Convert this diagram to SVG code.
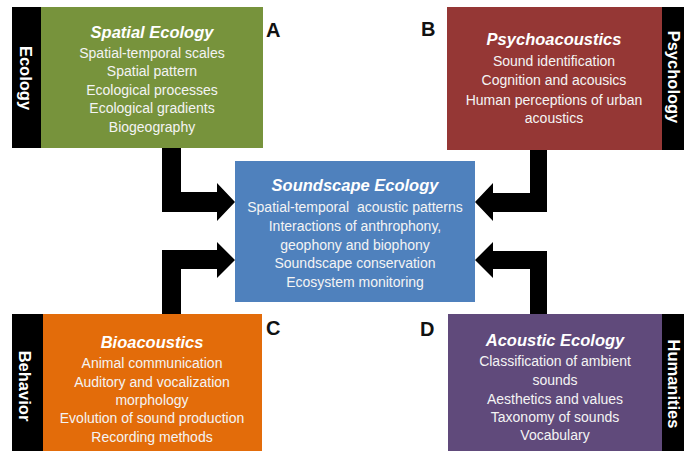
<svg xmlns="http://www.w3.org/2000/svg" width="684" height="451" viewBox="0 0 684 451">
<style>
.t{font-family:"Liberation Sans",Arial,sans-serif;font-size:14px;fill:#f4f4f4;text-anchor:middle}
.h{font-family:"Liberation Sans",Arial,sans-serif;font-size:16.5px;font-weight:bold;font-style:italic;fill:#ffffff;text-anchor:middle}
.s{font-family:"Liberation Sans",Arial,sans-serif;font-size:16.5px;font-weight:bold;fill:#ffffff;text-anchor:middle}
.l{font-family:"Liberation Sans",Arial,sans-serif;font-size:20px;font-weight:bold;fill:#111111}
.bar{fill:#000000}
.arrow{fill:#000000}
</style>
<rect width="684" height="451" fill="#ffffff"/>
<g id="connectors">
<path class="arrow" d="M162,148 H181 V192 H217 V183 L235,202 L217,221 V212 H162 Z"/>
<path class="arrow" d="M162,314 V250 H217 V242 L235,260 L217,278 V269 H181 V314 Z"/>
<path class="arrow" d="M547,150 V212 H493 V221 L475,202 L493,183 V193 H530 V150 Z"/>
<path class="arrow" d="M547,314 V251 H493 V242 L475,260 L493,278 V269 H530 V314 Z"/>
</g>
<g id="nodeA">
<rect class="bar" x="12" y="7" width="29" height="141"/>
<rect x="41" y="7" width="222" height="141" fill="#77933c"/>
<text class="s" transform="translate(20,78) rotate(90)">Ecology</text>
<text class="h" x="152" y="38">Spatial Ecology</text>
<text class="t" x="152" y="58">Spatial-temporal scales</text>
<text class="t" x="152" y="76">Spatial pattern</text>
<text class="t" x="152" y="95">Ecological processes</text>
<text class="t" x="152" y="113">Ecological gradients</text>
<text class="t" x="152" y="132">Biogeography</text>
<text class="l" x="266" y="37">A</text>
</g>
<g id="nodeB">
<rect x="447" y="7" width="215" height="143" fill="#953735"/>
<rect class="bar" x="662" y="7" width="22" height="143"/>
<text class="s" transform="translate(668,77) rotate(90)">Psychology</text>
<text class="h" x="554" y="45">Psychoacoustics</text>
<text class="t" x="554" y="66">Sound identification</text>
<text class="t" x="554" y="85">Cognition and acousics</text>
<text class="t" x="554" y="105">Human perceptions of urban</text>
<text class="t" x="554" y="123">acoustics</text>
<text class="l" x="421" y="36">B</text>
</g>
<g id="nodeCenter">
<rect x="235" y="161" width="240" height="141" fill="#4f81bd"/>
<text class="h" x="355" y="191">Soundscape Ecology</text>
<text class="t" x="355" y="212" xml:space="preserve">Spatial-temporal  acoustic patterns</text>
<text class="t" x="355" y="231">Interactions of anthrophony,</text>
<text class="t" x="355" y="250">geophony and biophony</text>
<text class="t" x="355" y="268">Soundscape conservation</text>
<text class="t" x="355" y="287">Ecosystem monitoring</text>
</g>
<g id="nodeC">
<rect class="bar" x="12" y="314" width="31" height="137"/>
<rect x="43" y="314" width="219" height="137" fill="#e36c0a"/>
<text class="s" transform="translate(19,386) rotate(90)">Behavior</text>
<text class="h" x="152" y="348">Bioacoustics</text>
<text class="t" x="152" y="368">Animal communication</text>
<text class="t" x="152" y="387">Auditory and vocalization</text>
<text class="t" x="152" y="405">morphology</text>
<text class="t" x="152" y="423">Evolution of sound production</text>
<text class="t" x="152" y="442">Recording methods</text>
<text class="l" x="266" y="335">C</text>
</g>
<g id="nodeD">
<rect x="448" y="314" width="214" height="137" fill="#604a7b"/>
<rect class="bar" x="662" y="314" width="22" height="137"/>
<text class="s" transform="translate(668,384) rotate(90)">Humanities</text>
<text class="h" x="555" y="346">Acoustic Ecology</text>
<text class="t" x="555" y="366">Classification of ambient</text>
<text class="t" x="555" y="385">sounds</text>
<text class="t" x="555" y="404">Aesthetics and values</text>
<text class="t" x="555" y="422">Taxonomy of sounds</text>
<text class="t" x="555" y="440">Vocabulary</text>
<text class="l" x="420" y="336">D</text>
</g>
</svg>
